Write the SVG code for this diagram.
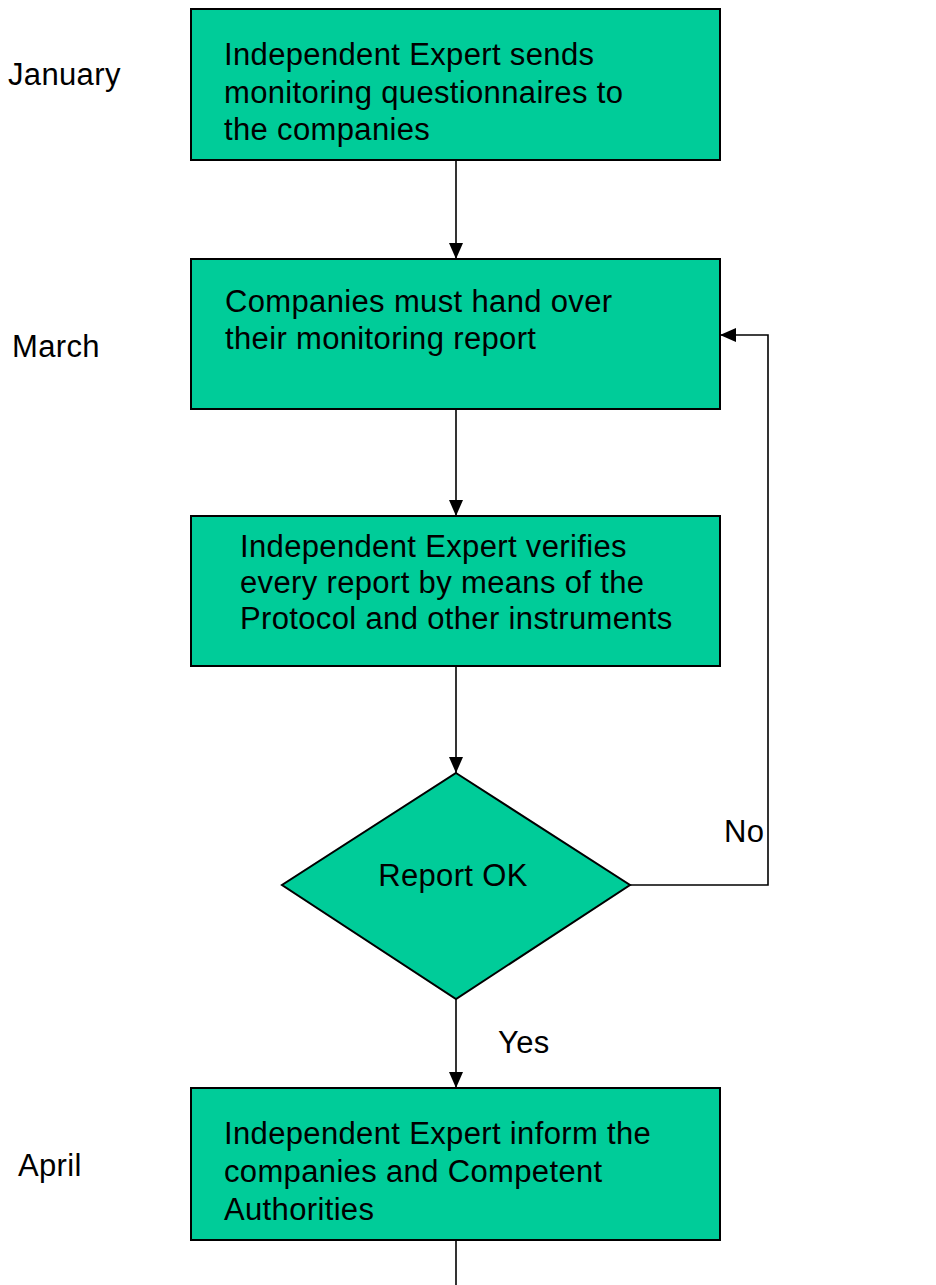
<svg xmlns="http://www.w3.org/2000/svg" width="936" height="1285" viewBox="0 0 936 1285">
  <style>
    .box { fill: #00CC99; stroke: #000; stroke-width: 2; }
    .txt { font-family: "Liberation Sans", Arial, sans-serif; font-size: 31px; letter-spacing: 0.35px; fill: #000; }
    .edge { fill: none; stroke: #000; stroke-width: 1.6; }
  </style>
  <defs>
    <marker id="arrow" viewBox="0 0 16 14" refX="16" refY="7" markerWidth="16" markerHeight="14" markerUnits="userSpaceOnUse" orient="auto">
      <path d="M0,0 L16,7 L0,14 Z" fill="#000"/>
    </marker>
  </defs>
  <rect width="936" height="1285" fill="#fff"/>

  <!-- month labels -->
  <g id="labels">
    <text class="txt" x="8" y="85" letter-spacing="0">January</text>
    <text class="txt" x="12" y="357" letter-spacing="0">March</text>
    <text class="txt" x="18" y="1176" letter-spacing="0">April</text>
  </g>

  <!-- connectors -->
  <g id="connectors">
    <line class="edge" x1="456" y1="160" x2="456" y2="259" marker-end="url(#arrow)"/>
    <line class="edge" x1="456" y1="409" x2="456" y2="516" marker-end="url(#arrow)"/>
    <line class="edge" x1="456" y1="666" x2="456" y2="773" marker-end="url(#arrow)"/>
    <line class="edge" x1="456" y1="999" x2="456" y2="1088" marker-end="url(#arrow)"/>
    <polyline class="edge" points="630,885 768,885 768,335 720,335" marker-end="url(#arrow)"/>
    <line class="edge" x1="456" y1="1240" x2="456" y2="1285"/>
    <text class="txt" x="724" y="842" letter-spacing="0">No</text>
    <text class="txt" x="498" y="1053" letter-spacing="0">Yes</text>
  </g>

  <g id="n1">
    <rect class="box" x="191" y="9" width="529" height="151"/>
    <text class="txt" x="224" y="65">Independent Expert sends</text>
    <text class="txt" x="224" y="103">monitoring questionnaires to</text>
    <text class="txt" x="224" y="140">the companies</text>
  </g>

  <g id="n2">
    <rect class="box" x="191" y="259" width="529" height="150"/>
    <text class="txt" x="225" y="312">Companies must hand over</text>
    <text class="txt" x="225" y="349">their monitoring report</text>
  </g>

  <g id="n3">
    <rect class="box" x="191" y="516" width="529" height="150"/>
    <text class="txt" x="240" y="557">Independent Expert verifies</text>
    <text class="txt" x="240" y="593">every report by means of the</text>
    <text class="txt" x="240" y="629">Protocol and other instruments</text>
  </g>

  <g id="n4">
    <polygon class="box" points="456,773 630,885 456,999 282,885"/>
    <text class="txt" x="453" y="886" text-anchor="middle">Report OK</text>
  </g>

  <g id="n5">
    <rect class="box" x="191" y="1088" width="529" height="152"/>
    <text class="txt" x="224" y="1144">Independent Expert inform the</text>
    <text class="txt" x="224" y="1182">companies and Competent</text>
    <text class="txt" x="224" y="1220">Authorities</text>
  </g>
</svg>
